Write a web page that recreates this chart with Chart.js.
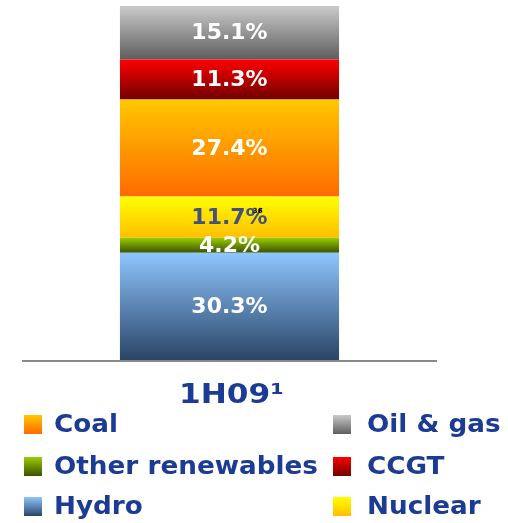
<!DOCTYPE html>
<html>
<head>
<meta charset="utf-8">
<script src="https://cdn.jsdelivr.net/npm/chart.js@4/dist/chart.umd.min.js"></script>
<style>
html, body { margin: 0; padding: 0; background: #fff; }
#wrap { width: 508px; height: 523px; }
</style>
</head>
<body>
<div id="wrap"><canvas id="chart" width="508" height="523"></canvas></div>
<script>
// data, bottom of the stack first
const categories = ['1H09¹'];
const hydro = [30.3];
const otherRenewables = [4.2];
const nuclear = [11.7];
const coal = [27.4];
const ccgt = [11.3];
const oilGas = [15.1];

const seriesNames = ['Hydro', 'Other renewables', 'Nuclear', 'Coal', 'CCGT', 'Oil & gas'];
const seriesValues = [hydro, otherRenewables, nuclear, coal, ccgt, oilGas];
// gradient top -> bottom
const seriesColors = [
    ['#8ec6ff', '#2a4466'],
    ['#9acd00', '#3a5200'],
    ['#ffff00', '#ffbe00'],
    ['#ffc800', '#ff6a00'],
    ['#ff0000', '#700000'],
    ['#cacaca', '#5e5e5e']
];
const labelColors = ['#ffffff', '#ffffff', '#44507e', '#ffffff', '#ffffff', '#ffffff'];

const legendLeft = ['Coal', 'Other renewables', 'Hydro'];
const legendRight = ['Oil & gas', 'CCGT', 'Nuclear'];

const textBlue = '#1c3b94';

const segmentFill = function(i) {
    return function(context) {
        const chart = context.chart;
        const y = chart.scales.y;
        if (!y || y.top === undefined) {
            return seriesColors[i][0];
        }
        let base = 0;
        for (let k = 0; k < i; k++) {
            base += seriesValues[k][context.dataIndex];
        }
        const top = y.getPixelForValue(base + seriesValues[i][context.dataIndex]);
        const bottom = y.getPixelForValue(base);
        const g = chart.ctx.createLinearGradient(0, top, 0, bottom);
        g.addColorStop(0, seriesColors[i][0]);
        g.addColorStop(1, seriesColors[i][1]);
        return g;
    };
};

// text a bit wider than the font, like the original slide
const wideText = function(ctx, text, x, y, sx, align) {
    ctx.save();
    ctx.textAlign = align;
    ctx.translate(x, y);
    ctx.scale(sx, 1);
    ctx.fillText(text, 0, 0);
    ctx.restore();
};

// labels are drawn right after each segment, so the next one below can cover them
const segmentLabels = {
    id: 'segmentLabels',
    afterDatasetDraw(chart, args) {
        const ctx = chart.ctx;
        const i = args.index;
        const meta = chart.getDatasetMeta(i);
        meta.data.forEach((bar, j) => {
            const value = seriesValues[i][j];
            const cy = (bar.y + bar.base) / 2;
            ctx.save();
            ctx.font = 'bold 22px "DejaVu Sans"';
            ctx.fillStyle = labelColors[i];
            ctx.textAlign = 'center';
            ctx.textBaseline = 'middle';
            const text = value.toFixed(1) + '%';
            ctx.fillText(text, bar.x, cy + 1);
            if (seriesNames[i] === 'Nuclear') {
                const w = ctx.measureText(text).width;
                ctx.font = 'bold 7px "DejaVu Sans"';
                ctx.fillStyle = '#000';
                ctx.fillText('36', bar.x + w / 2 - 10, cy - 6);
            }
            ctx.restore();
        });
    }
};

const extras = {
    id: 'extras',
    afterDraw(chart) {
        const ctx = chart.ctx;
        const area = chart.chartArea;
        const y0 = chart.scales.y.getPixelForValue(0);
        ctx.save();
        // baseline
        ctx.strokeStyle = '#8a8a8a';
        ctx.lineWidth = 2;
        ctx.beginPath();
        ctx.moveTo(area.left, y0 + 1);
        ctx.lineTo(area.right, y0 + 1);
        ctx.stroke();
        // category label
        const cx = chart.scales.x.getPixelForValue(0);
        ctx.fillStyle = textBlue;
        ctx.textBaseline = 'alphabetic';
        ctx.font = 'bold 26px "DejaVu Sans"';
        wideText(ctx, categories[0], cx + 2, 403, 1.2, 'center');
        // legend
        ctx.textBaseline = 'middle';
        ctx.font = 'bold 25px "DejaVu Sans"';
        const rows = [424, 466, 506];
        const cols = [{ box: 24, text: 54, names: legendLeft }, { box: 333, text: 367, names: legendRight }];
        cols.forEach(col => {
            col.names.forEach((name, r) => {
                const idx = seriesNames.indexOf(name);
                const top = rows[r] - 9;
                const g = ctx.createLinearGradient(0, top, 0, top + 19);
                g.addColorStop(0, seriesColors[idx][0]);
                g.addColorStop(1, seriesColors[idx][1]);
                ctx.fillStyle = g;
                ctx.fillRect(col.box, top, 18, 19);
                ctx.fillStyle = textBlue;
                wideText(ctx, name, col.text, rows[r] + 1, 1.05, 'left');
            });
        });
        ctx.restore();
    }
};

const datasets = seriesNames.map((name, i) => ({
    label: name,
    data: seriesValues[i],
    backgroundColor: segmentFill(i),
    borderWidth: 0,
    categoryPercentage: 1,
    barPercentage: 0.528
}));

new Chart(document.getElementById('chart'), {
    type: 'bar',
    data: { labels: categories, datasets: datasets },
    options: {
        responsive: false,
        animation: false,
        layout: { padding: { top: 6, bottom: 163, left: 22, right: 71 } },
        scales: {
            x: { stacked: true, display: false },
            y: { stacked: true, display: false, min: 0, max: 100 }
        },
        plugins: {
            legend: { display: false },
            tooltip: { enabled: false }
        }
    },
    plugins: [segmentLabels, extras]
});
</script>
</body>
</html>
